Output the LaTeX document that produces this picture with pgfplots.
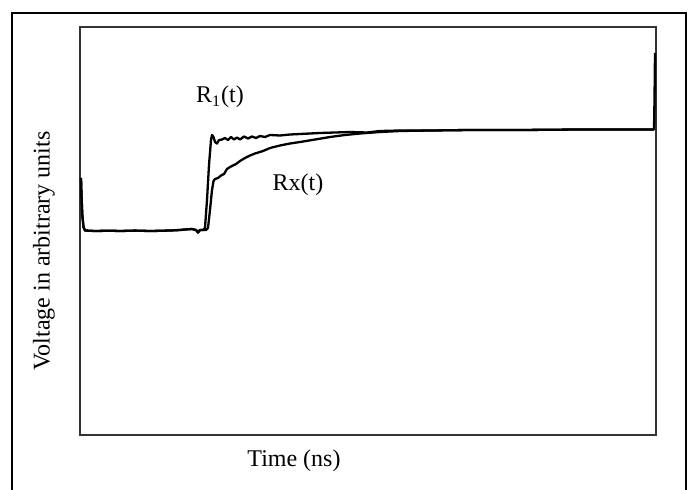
\documentclass[border=0pt]{standalone}
\usepackage{pgfplots}
\pgfplotsset{compat=1.18}
\usepackage{fontspec}
\setmainfont{Liberation Serif}
\begin{document}
\begin{tikzpicture}[x=0.5pt,y=0.5pt]
\useasboundingbox (0,0) rectangle (691,489);
\draw[black,line width=0.8pt] (12,-5) -- (12,476) -- (686,476) -- (686,-5);
\begin{axis}[
  at={(80,54)}, anchor=south west,
  scale only axis, width=288pt, height=204pt,
  xmin=80, xmax=656, ymin=-435, ymax=-27,
  xtick=\empty, ytick=\empty,
  axis line style={gray!40!black, line width=0.6pt},
  clip=false,
  xlabel={Time (ns)}, ylabel={Voltage in arbitrary units},
  every axis x label/.style={at={(axis cs:294,-461)}, anchor=center, font=\fontsize{12}{14}\selectfont},
  every axis y label/.style={at={(axis cs:44,-251)}, anchor=center, rotate=90, font=\fontsize{12}{14}\selectfont},
]
\addplot[black, line width=1.15pt, line join=round] coordinates {
(81,-178) (81.5,-195) (82.3,-215) (83.5,-227) (85,-230.5) (95,-231) (110,-230.7) (120,-231) (135,-230.6)
(150,-231) (160,-230.8) (170,-230.5) (180,-230) (185,-229.5) (192,-229) (196,-230) (198,-232.5) (200,-230) (203,-230)
(205,-228) (207,-200) (209,-165) (211,-140) (212,-135) (213.5,-137) (215,-142) (217,-143.5) (219,-140)
(222,-139.5) (225,-138) (228,-140) (231,-137) (234,-139.5) (237,-137.5) (240,-139.5) (244,-136.5) (248,-138.5)
(252,-136.5) (256,-138) (260,-136) (265,-137) (270,-135) (280,-135.5) (290,-134.5) (300,-134) (310,-133.5)
(320,-133) (335,-132.5) (350,-132) (367,-132.5) (380,-131) (400,-130.5) (430,-130.5) (470,-130) (520,-130)
(580,-129.5) (640,-129.5) (654,-129.5) (654.5,-100) (655,-53)
};
\addplot[black, line width=1.15pt, line join=round] coordinates {
(81,-178) (81.5,-195) (82.3,-215) (83.5,-227) (85,-230.5) (95,-231) (110,-230.7) (120,-231) (135,-230.6)
(150,-231) (160,-230.8) (170,-230.5) (180,-230) (185,-229.5) (192,-229) (196,-230) (198,-232.5) (200,-230) (203,-230)
(206,-230) (208,-228) (210,-210) (212,-190) (213.5,-181) (215,-179) (218,-178) (221,-175.5) (224,-174)
(227,-169) (230,-167) (233,-165.5) (236,-164) (240,-161) (245,-158) (250,-155.5) (255,-153.5) (263,-151)
(270,-148) (280,-145.5) (290,-143.5) (300,-142) (315,-139.5) (330,-137) (345,-135) (360,-133.5) (380,-132)
(400,-131) (430,-130.5) (470,-130) (520,-130) (580,-129.5) (640,-129.5) (654,-129.5)
};
\node[font=\fontsize{12}{14}\selectfont] at (axis cs:220,-97) {R\textsubscript{1}(t)};
\node[font=\fontsize{12}{14}\selectfont] at (axis cs:298,-185) {Rx(t)};
\end{axis}
\end{tikzpicture}
\end{document}
